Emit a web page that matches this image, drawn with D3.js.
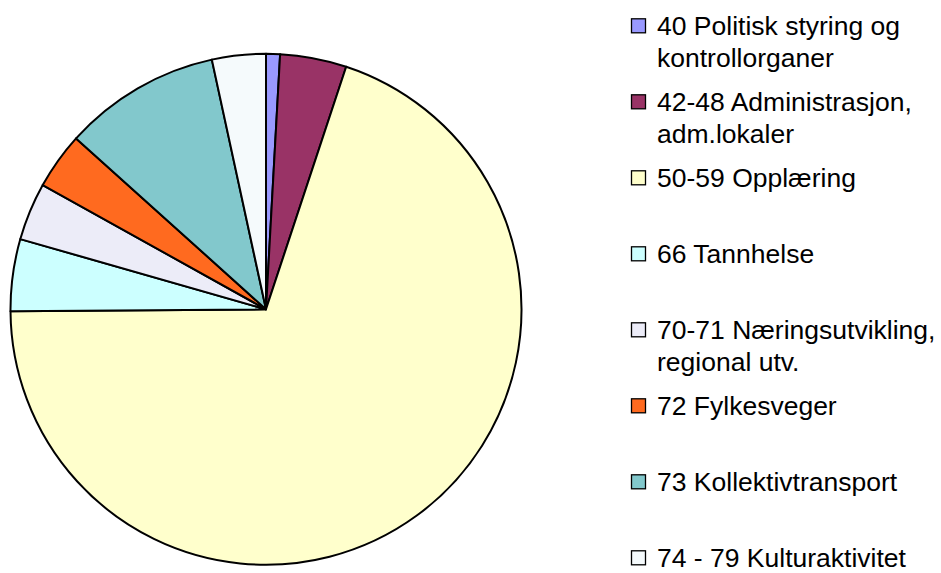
<!DOCTYPE html>
<html>
<head>
<meta charset="utf-8">
<script src="https://cdn.jsdelivr.net/npm/d3@7"></script>
<style>
  html, body { margin: 0; padding: 0; background: #ffffff; }
  svg { display: block; }
</style>
</head>
<body>
<svg id="chart" width="941" height="573"></svg>
<script>
const categories = [
  ["40 Politisk styring og", "kontrollorganer"],
  ["42-48 Administrasjon,", "adm.lokaler"],
  ["50-59 Opplæring"],
  ["66 Tannhelse"],
  ["70-71 Næringsutvikling,", "regional utv."],
  ["72 Fylkesveger"],
  ["73 Kollektivtransport"],
  ["74 - 79 Kulturaktivitet"]
];
const values = [0.88, 4.2, 69.8, 4.55, 3.65, 3.58, 9.94, 3.4];
const colors = ["#9999FF", "#993366", "#FFFFCC", "#CCFFFF", "#ECECF8", "#FF6A1F", "#82C8CC", "#F5FAFC"];

const svg = d3.select("#chart");
const cx = 266, cy = 309.3, r = 255.5;

const pie = d3.pie().sort(null).value(d => d).startAngle(0).endAngle(2 * Math.PI);
const arc = d3.arc().innerRadius(0).outerRadius(r);

const g = svg.append("g").attr("transform", `translate(${cx},${cy})`);
g.selectAll("path")
  .data(pie(values))
  .join("path")
  .attr("d", arc)
  .attr("fill", (d, i) => colors[i])
  .attr("stroke", "#000")
  .attr("stroke-width", 2)
  .attr("stroke-linejoin", "round");

// legend
const legendY = d3.scaleLinear().domain([0, 1]).range([26.3, 26.3 + 76.0]);
const leg = svg.append("g");
const items = leg.selectAll("g.item")
  .data(categories)
  .join("g")
  .attr("class", "item")
  .attr("transform", (d, i) => `translate(0,${legendY(i)})`);

items.append("rect")
  .attr("x", 631.5)
  .attr("y", -7.5)
  .attr("width", 14)
  .attr("height", 14)
  .attr("fill", (d, i) => colors[i])
  .attr("stroke", "#000")
  .attr("stroke-width", 1.3);

items.append("text")
  .attr("x", 657)
  .attr("y", 8.2)
  .attr("font-family", "'Liberation Sans', Arial, sans-serif")
  .attr("font-size", 26.5)
  .attr("fill", "#000")
  .selectAll("tspan")
  .data(d => d)
  .join("tspan")
  .attr("x", 657)
  .attr("dy", (d, j) => j === 0 ? 0 : 33)
  .text(d => d);
</script>
</body>
</html>
